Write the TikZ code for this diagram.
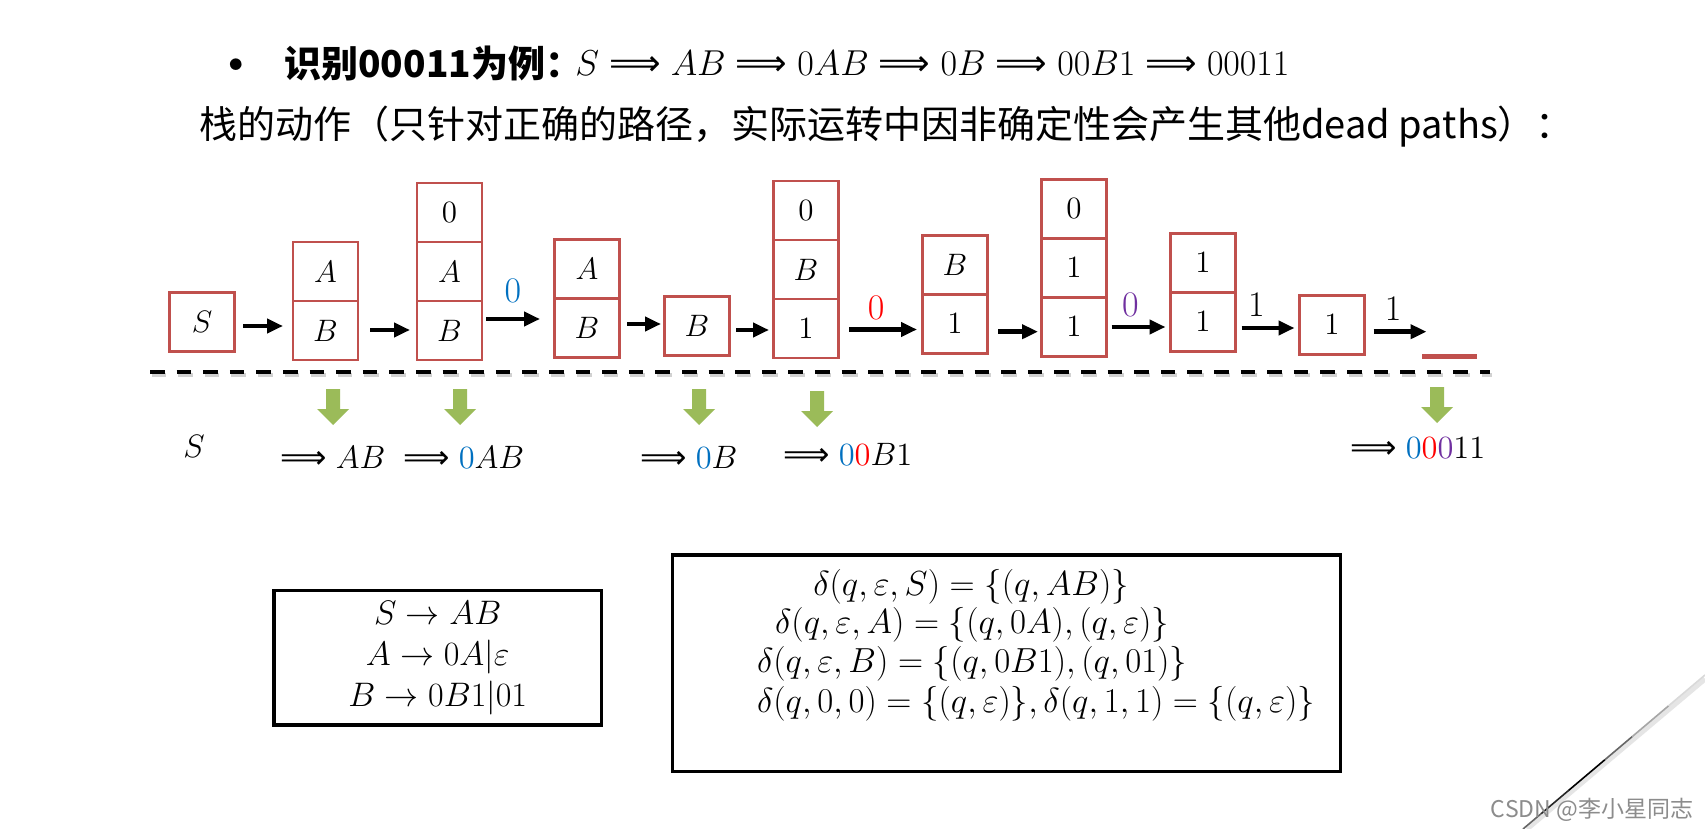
\RequirePackage{fix-cm}
\documentclass[tikz,border=0pt]{standalone}
\usepackage{fontspec}
\newfontfamily\cjk{Noto Sans CJK SC}
\newfontfamily\dejavu{DejaVu Sans}
\usetikzlibrary{arrows.meta,calc}
\definecolor{boxred}{HTML}{C0504D}
\definecolor{ogreen}{HTML}{9BBB59}
\definecolor{oblue}{HTML}{0070C0}
\definecolor{ored}{HTML}{FF0000}
\definecolor{opurple}{HTML}{7030A0}
\newcommand{\Lra}{\mathrel{\hbox{\dejavu ⟹}}}
\begin{document}
\begin{tikzpicture}[x=0.5pt,y=-0.5pt,
  cell/.style={draw=boxred, line width=1.2pt, fill=white, outer sep=0pt,
    minimum width=32.5pt, minimum height=29.5pt, inner sep=0pt,
    font=\fontsize{15.5}{18}\selectfont},
  blk/.style={line width=2.3pt, -{Triangle[length=8pt,width=7pt]}},
  lbl/.style={font=\fontsize{18}{21}\selectfont, inner sep=0pt},
  deriv/.style={font=\fontsize{16.2}{19}\selectfont, inner sep=0pt},
  frame/.style={draw=black, line width=1.8pt, inner sep=0pt},
  mline/.style={font=\fontsize{17.4}{20}\selectfont, inner sep=0pt},
  garr/.pic={\fill[ogreen] (-7,0) -- (7,0) -- (7,20) -- (16,20) -- (0,36) -- (-16,20) -- (-7,20) -- cycle;},
  dashl/.style={line width=2pt, dash pattern=on 7.3pt off 6pt}
]
\fill[white] (0,0) rectangle (1705,829);
\useasboundingbox (0,0) rectangle (1705,829);

% title lines
\node[anchor=base, inner sep=0pt, font=\fontsize{26}{28}\selectfont] (bul) at (236,79) {\textbullet};
\node[anchor=base west, inner sep=0pt, font=\fontsize{18.5}{22}\cjk\bfseries] (t1) at (284,78) {识别00011为例：};
\node[anchor=base west, inner sep=0pt, font=\fontsize{18}{21}\selectfont] (t2) at (575,76)
  {$S\Lra AB\Lra 0AB\Lra 0B\Lra 00B1\Lra 00011$};
\node[anchor=base west, inner sep=0pt, font=\fontsize{19}{22}\cjk] (t3) at (199,139)
  {栈的动作（只针对正确的路径，实际运转中因非确定性会产生其他dead paths）：};

% stacks
\node[cell] (s0) at (202,322) {$S$};
\node[cell] (b2) at (325.5,330.5) {$B$};
\node[cell,anchor=south] (a2) at (b2.north) {$A$};
\node[cell] (b3) at (449.5,330.5) {$B$};
\node[cell,anchor=south] (a3) at (b3.north) {$A$};
\node[cell,anchor=south] (z3) at (a3.north) {$0$};
\node[cell] (b4) at (587,328) {$B$};
\node[cell,anchor=south] (a4) at (b4.north) {$A$};
\node[cell] (bb) at (697,326) {$B$};
\node[cell] (o5) at (806,328.5) {$1$};
\node[cell,anchor=south] (b5) at (o5.north) {$B$};
\node[cell,anchor=south] (z5) at (b5.north) {$0$};
\node[cell] (o6) at (955,324) {$1$};
\node[cell,anchor=south] (b6) at (o6.north) {$B$};
\node[cell] (o7) at (1074,327) {$1$};
\node[cell,anchor=south] (p7) at (o7.north) {$1$};
\node[cell,anchor=south] (z7) at (p7.north) {$0$};
\node[cell] (o8) at (1203,322) {$1$};
\node[cell,anchor=south] (p8) at (o8.north) {$1$};
\node[cell] (o9) at (1332,325) {$1$};

% arrows between stacks
\draw[blk] (s0.east) ++(8.5,4) -- ++(40,0);
\draw[blk] (b2.east) ++(12,-0.5) -- ++(40,0);
\draw[blk] (b3.east) ++(4,-11.5) -- ++(54,0)
  node[lbl, midway, above=7pt, text=oblue] (l3) {$0$};
\draw[blk] (b4.east) ++(7.5,-4) -- ++(34,0);
\draw[blk] (bb.east) ++(6.5,4) -- ++(33,0);
\draw[blk] (o5.east) ++(10.5,1) -- ++(68,0)
  node[lbl, pos=0.4, above=3.8pt, text=ored] (l6) {$0$};
\draw[blk] (o6.east) ++(10.5,7.7) -- ++(40,0);
\draw[blk] (o7.east) ++(5,0) -- ++(54,0)
  node[lbl, pos=0.35, above=4.2pt, text=opurple] (l8) {$0$};
\draw[blk] (o8.east) ++(6,6) -- ++(53,0)
  node[lbl, pos=0.28, above=4.5pt] (l9) {$1$};
\draw[blk] (o9.east) ++(9,6.7) -- ++(53,0)
  node[lbl, pos=0.37, above=4.5pt] (l10) {$1$};

% empty stack bar
\draw[boxred, line width=2.5pt] (1422,356) -- (1477,356);

% dashed separator
\draw[dashl, black!18] (151.5,374.5) -- (1491.5,374.5);
\draw[dashl] (150,372) -- (1490,372);

% green arrows
\pic at (333,389) {garr};
\pic at (460,389) {garr};
\pic at (699,389) {garr};
\pic at (817,391) {garr};
\pic at (1437,387) {garr};

% derivation
\node[deriv] (d0) at (194,446) {$S$};
\node[deriv, anchor=west] (d1) at (280,457) {$\Lra AB$};
\node[deriv, anchor=west] (d2) at (403,457) {$\Lra {\color{oblue}0}AB$};
\node[deriv, anchor=west] (d3) at (640,457) {$\Lra {\color{oblue}0}B$};
\node[deriv, anchor=west] (d4) at (783,454.5) {$\Lra {\color{oblue}0}{\color{ored}0}B1$};
\node[deriv, anchor=west] (d5) at (1350,448) {$\Lra {\color{oblue}0}{\color{ored}0}{\color{opurple}0}11$};

% grammar box
\node[frame, minimum width=163.8pt, minimum height=67.2pt, align=center,
  font=\fontsize{17}{20.5}\selectfont] (gram) at (437.7,657.8)
  {$S\rightarrow AB$\\ $A\rightarrow 0A|\varepsilon$\\ $B\rightarrow 0B1|01$};

% delta box
\node[frame, minimum width=333.9pt, minimum height=108.3pt] (dbox) at (1006.4,663.3) {};
\node[mline] (e1) at (971,586.7) {$\delta(q,\varepsilon,S)=\{(q,AB)\}$};
\node[mline] (e2) at (972,625) {$\delta(q,\varepsilon,A)=\{(q,0A),(q,\varepsilon)\}$};
\node[mline] (e3) at (972,663.3) {$\delta(q,\varepsilon,B)=\{(q,0B1),(q,01)\}$};
\node[mline, anchor=west] (e4) at ([yshift=-20pt]e3.west)
  {$\delta(q,0,0)=\{(q,\varepsilon)\},\delta(q,1,1)=\{(q,\varepsilon)\}$};

% corner page-curl line
\draw[black!10, line width=2.5pt] (1527,829) -- (1705,679);
\draw[black!60, line width=0.8pt] (1523,829) -- (1541.2,813.6);
\draw[black!85, line width=0.8pt] (1541.2,813.6) -- (1568.5,790.5);
\draw[black, line width=0.8pt] (1568.5,790.5) -- (1604.9,759.7);
\draw[black!60, line width=0.8pt] (1604.9,759.7) -- (1632.2,736.6);
\draw[black!35, line width=0.8pt] (1632.2,736.6) -- (1668.6,705.8);
\draw[black!15, line width=0.8pt] (1668.6,705.8) -- (1705,675);

% watermark
\node[font=\fontsize{11.5}{13}\cjk, text=black!45, inner sep=0pt] (wm) at (1592,810) {CSDN @李小星同志};
\end{tikzpicture}
\end{document}
